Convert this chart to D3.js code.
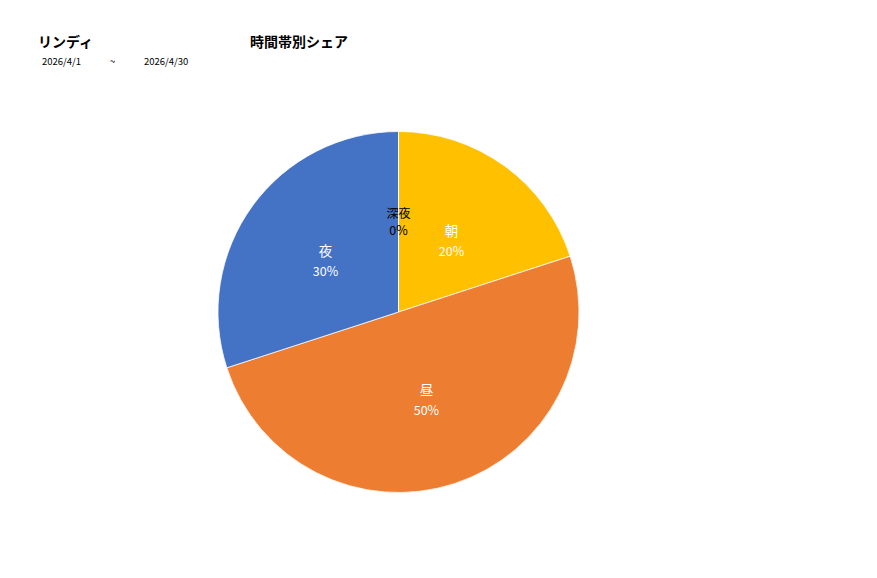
<!DOCTYPE html>
<html>
<head>
<meta charset="utf-8">
<script src="https://cdn.jsdelivr.net/npm/d3@7"></script>
<style>
  body { margin: 0; background: #fff; }
  text { font-family: "Noto Sans CJK JP", "Noto Sans", sans-serif; }
</style>
</head>
<body>
<div id="chart"></div>
<script>
// data
var categories = ["朝", "昼", "夜", "深夜"];
var shares = [20, 50, 30, 0];
var colors = ["#FFC000", "#ED7D31", "#4472C4", "#A5A5A5"];
var labelColors = ["#ffffff", "#ffffff", "#ffffff", "#000000"];

var width = 877, height = 578;
var cx = 398.5, cy = 312, radius = 180.5;

var svg = d3.select("#chart").append("svg")
  .attr("width", width)
  .attr("height", height);

// headers
svg.append("text").attr("x", 38).attr("y", 47)
  .style("font-size", "14px").style("font-weight", "bold")
  .text("リンディ");
svg.append("text").attr("x", 250).attr("y", 47)
  .style("font-size", "14px").style("font-weight", "bold")
  .text("時間帯別シェア");
svg.append("text").attr("x", 42).attr("y", 65).style("font-size", "9.5px").text("2026/4/1");
svg.append("text").attr("x", 110).attr("y", 65).style("font-size", "9.5px").text("~");
svg.append("text").attr("x", 144).attr("y", 65).style("font-size", "9.5px").text("2026/4/30");

var data = categories.map(function(c, i) { return {name: c, value: shares[i], i: i}; });

var pie = d3.pie().sort(null).value(function(d) { return d.value; });
var arc = d3.arc().innerRadius(0).outerRadius(radius);
var labelArc = d3.arc().innerRadius(radius * 0.5).outerRadius(radius * 0.5);

var g = svg.append("g").attr("transform", "translate(" + cx + "," + cy + ")");

var arcs = pie(data);

g.selectAll("path")
  .data(arcs)
  .enter().append("path")
    .attr("d", arc)
    .style("fill", function(d) { return colors[d.data.i]; })
    .style("stroke", "#ffffff")
    .style("stroke-width", 0.75);

var labels = g.selectAll("g.lbl")
  .data(arcs)
  .enter().append("g")
    .attr("class", "lbl")
    .attr("transform", function(d) { return "translate(" + labelArc.centroid(d) + ")"; });

labels.append("text")
  .attr("text-anchor", "middle")
  .attr("y", function(d) { return d.data.value === 0 ? -4 : -3; })
  .style("font-size", function(d) { return d.data.value === 0 ? "12px" : "13.5px"; })
  .style("fill", function(d) { return labelColors[d.data.i]; })
  .text(function(d) { return d.data.name; });

labels.append("text")
  .attr("text-anchor", "middle")
  .attr("y", function(d) { return d.data.value === 0 ? 13 : 17; })
  .style("font-size", "12.5px")
  .style("fill", function(d) { return labelColors[d.data.i]; })
  .text(function(d) { return d.data.value + "%"; });
</script>
</body>
</html>
